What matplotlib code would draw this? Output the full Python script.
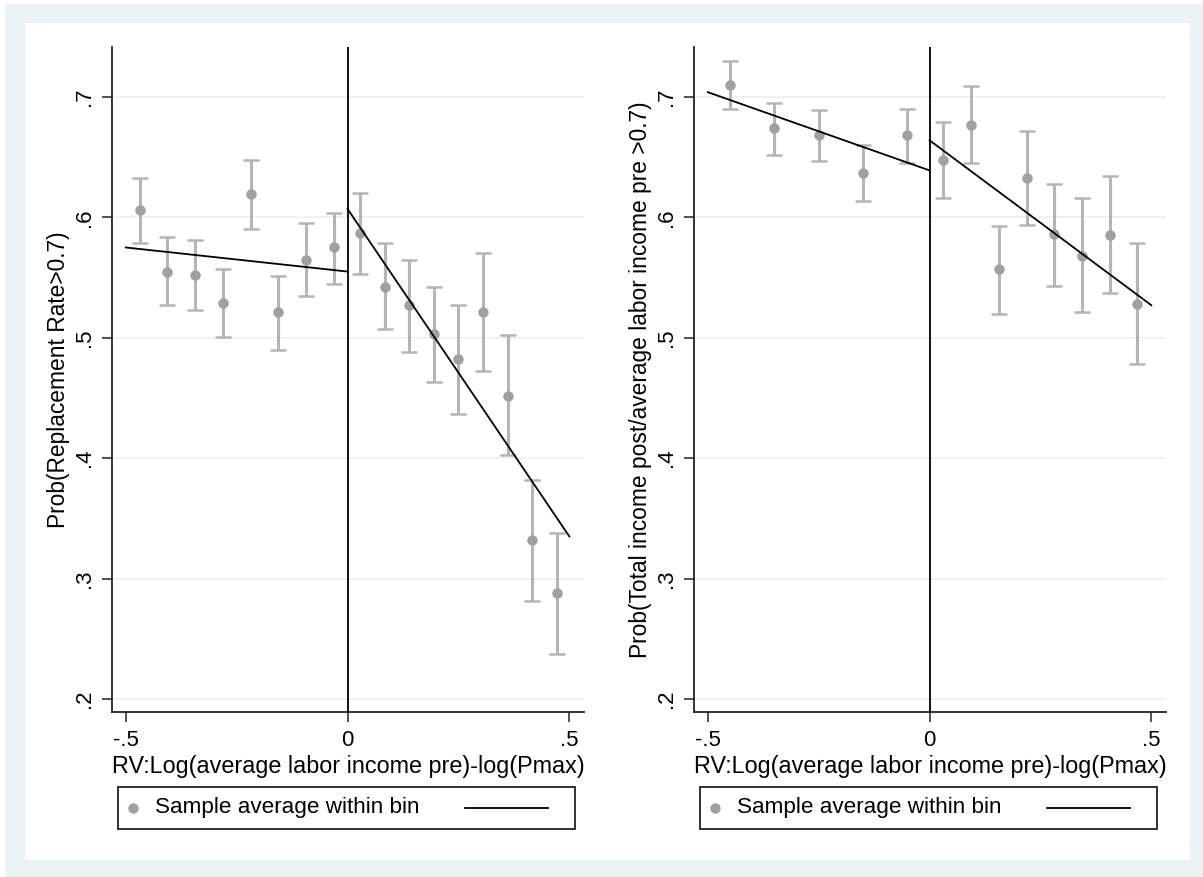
import numpy as np
import matplotlib
matplotlib.use('Agg')
import matplotlib.pyplot as plt
from matplotlib.patches import Rectangle
from matplotlib.lines import Line2D

plt.rcParams['font.family'] = ['Liberation Sans', 'DejaVu Sans']

#data - left panel (replacement rate), bins below the cutoff
x_left_a = [-0.46875, -0.40625, -0.34375, -0.28125, -0.21875, -0.15625, -0.09375, -0.03125]
y_left_a = [0.606, 0.555, 0.552, 0.529, 0.619, 0.521, 0.565, 0.575]
lo_left_a = [0.579, 0.527, 0.523, 0.501, 0.590, 0.490, 0.535, 0.545]
hi_left_a = [0.633, 0.584, 0.581, 0.557, 0.648, 0.551, 0.595, 0.604]
#bins above the cutoff
x_left_b = [0.02778, 0.08333, 0.13889, 0.19444, 0.25, 0.30556, 0.36111, 0.41667, 0.47222]
y_left_b = [0.587, 0.542, 0.527, 0.503, 0.482, 0.521, 0.452, 0.332, 0.288]
lo_left_b = [0.553, 0.507, 0.488, 0.463, 0.437, 0.472, 0.403, 0.281, 0.237]
hi_left_b = [0.620, 0.579, 0.565, 0.542, 0.527, 0.570, 0.502, 0.382, 0.338]
#fitted lines
fit_left_a = ([-0.5, 0.0], [0.575, 0.555])
fit_left_b = ([0.0, 0.5], [0.607, 0.335])

#data - right panel (total income)
x_right_a = [-0.45, -0.35, -0.25, -0.15, -0.05]
y_right_a = [0.710, 0.674, 0.668, 0.637, 0.668]
lo_right_a = [0.690, 0.652, 0.647, 0.614, 0.645]
hi_right_a = [0.730, 0.695, 0.689, 0.660, 0.690]
x_right_b = [0.03125, 0.09375, 0.15625, 0.21875, 0.28125, 0.34375, 0.40625, 0.46875]
y_right_b = [0.648, 0.677, 0.557, 0.633, 0.586, 0.568, 0.585, 0.528]
lo_right_b = [0.616, 0.645, 0.520, 0.594, 0.543, 0.521, 0.537, 0.478]
hi_right_b = [0.679, 0.709, 0.593, 0.672, 0.628, 0.616, 0.634, 0.579]
fit_right_a = ([-0.5, 0.0], [0.704, 0.639])
fit_right_b = ([0.0, 0.5], [0.664, 0.527])

yticks = [0.2, 0.3, 0.4, 0.5, 0.6, 0.7]
ytick_labels = ['.2', '.3', '.4', '.5', '.6', '.7']
xticks = [-0.5, 0, 0.5]
xtick_labels = ['-.5', '0', '.5']

xlab = 'RV:Log(average labor income pre)-log(Pmax)'
ylab_left = 'Prob(Replacement Rate>0.7)'
ylab_right = 'Prob(Total income post/average labor income pre >0.7)'
leg_text = 'Sample average within bin'

bg = '#EAF2F3'
mcol = '#A0A0A0'
ecol = '#B5B5B5'
FS_TICK = 16
FS_LAB = 16.8
FS_YLAB = 16.4
FS_LEG = 16.2

W, H = 1203, 877
fig = plt.figure(figsize=(W / 100, H / 100), dpi=100, facecolor='white')
#outer graph region and white inner region
fig.add_artist(Rectangle((5 / W, 0), 1 - 5 / W, 1 - 4 / H, transform=fig.transFigure,
                         facecolor=bg, edgecolor='none', zorder=-10))
fig.add_artist(Rectangle((25 / W, 1 - 860 / H), (1190 - 25) / W, (860 - 23) / H,
                         transform=fig.transFigure, facecolor='white', edgecolor='none', zorder=-9))


def draw_panel(left_px, xa, ya, loa, hia, xb, yb, lob, hib, fa, fb, ylab):
    ax = fig.add_axes([left_px / W, 1 - 712 / H, 472 / W, 665 / H])
    ax.set_facecolor('none')
    for xs, ys, lo, hi in [(xa, ya, loa, hia), (xb, yb, lob, hib)]:
        ys = np.array(ys)
        err = [ys - np.array(lo), np.array(hi) - ys]
        ax.errorbar(xs, ys, yerr=err, fmt='none', ecolor=ecol, elinewidth=2.2,
                    capsize=5.5, capthick=1.8, zorder=2)
        ax.plot(xs, ys, 'o', color=mcol, markersize=7.5, markeredgewidth=0, zorder=3)
    ax.plot(fa[0], fa[1], color='black', lw=1.3, zorder=4)
    ax.plot(fb[0], fb[1], color='black', lw=1.3, zorder=4)
    ax.axvline(0, color='black', lw=1.3, zorder=4)
    ax.set_xlim(-0.531, 0.533)
    ax.set_ylim(0.1892, 0.7415)
    ax.set_yticks(yticks)
    ax.set_yticklabels(ytick_labels, rotation=90, va='center', fontsize=FS_TICK)
    ax.set_xticks(xticks)
    ax.set_xticklabels(xtick_labels, fontsize=FS_TICK)
    ax.grid(axis='y', color=bg, lw=1.3, zorder=0)
    ax.spines['top'].set_visible(False)
    ax.spines['right'].set_visible(False)
    for s in ['left', 'bottom']:
        ax.spines[s].set_linewidth(1.3)
        ax.spines[s].set_color('#222222')
    ax.tick_params(length=7, width=1.3, color='#444444')
    ax.tick_params(axis='x', pad=6)
    ax.tick_params(axis='y', pad=5)
    ax.set_xlabel(xlab, fontsize=FS_LAB, labelpad=3)
    ax.set_ylabel(ylab, fontsize=FS_YLAB, labelpad=3)

    #legend box drawn by hand (marker entry is short, line key is long)
    lx0 = left_px + 6
    fig.add_artist(Rectangle((lx0 / W, 1 - 829 / H), 457 / W, 42 / H, transform=fig.transFigure,
                             facecolor='white', edgecolor='#222222', lw=1.3))
    fig.add_artist(Line2D([(lx0 + 15) / W], [1 - 808 / H], marker='o', color=mcol,
                          markersize=7.5, markeredgewidth=0, transform=fig.transFigure))
    fig.text((lx0 + 37) / W, 1 - 808 / H, leg_text, fontsize=FS_LEG, va='center', ha='left')
    fig.add_artist(Line2D([(lx0 + 347) / W, (lx0 + 430) / W], [1 - 808 / H, 1 - 808 / H],
                          color='black', lw=1.3, transform=fig.transFigure))
    return ax


draw_panel(112, x_left_a, y_left_a, lo_left_a, hi_left_a,
           x_left_b, y_left_b, lo_left_b, hi_left_b, fit_left_a, fit_left_b, ylab_left)
draw_panel(694, x_right_a, y_right_a, lo_right_a, hi_right_a,
           x_right_b, y_right_b, lo_right_b, hi_right_b, fit_right_a, fit_right_b, ylab_right)

fig.savefig('out.png', dpi=100, facecolor=fig.get_facecolor())
